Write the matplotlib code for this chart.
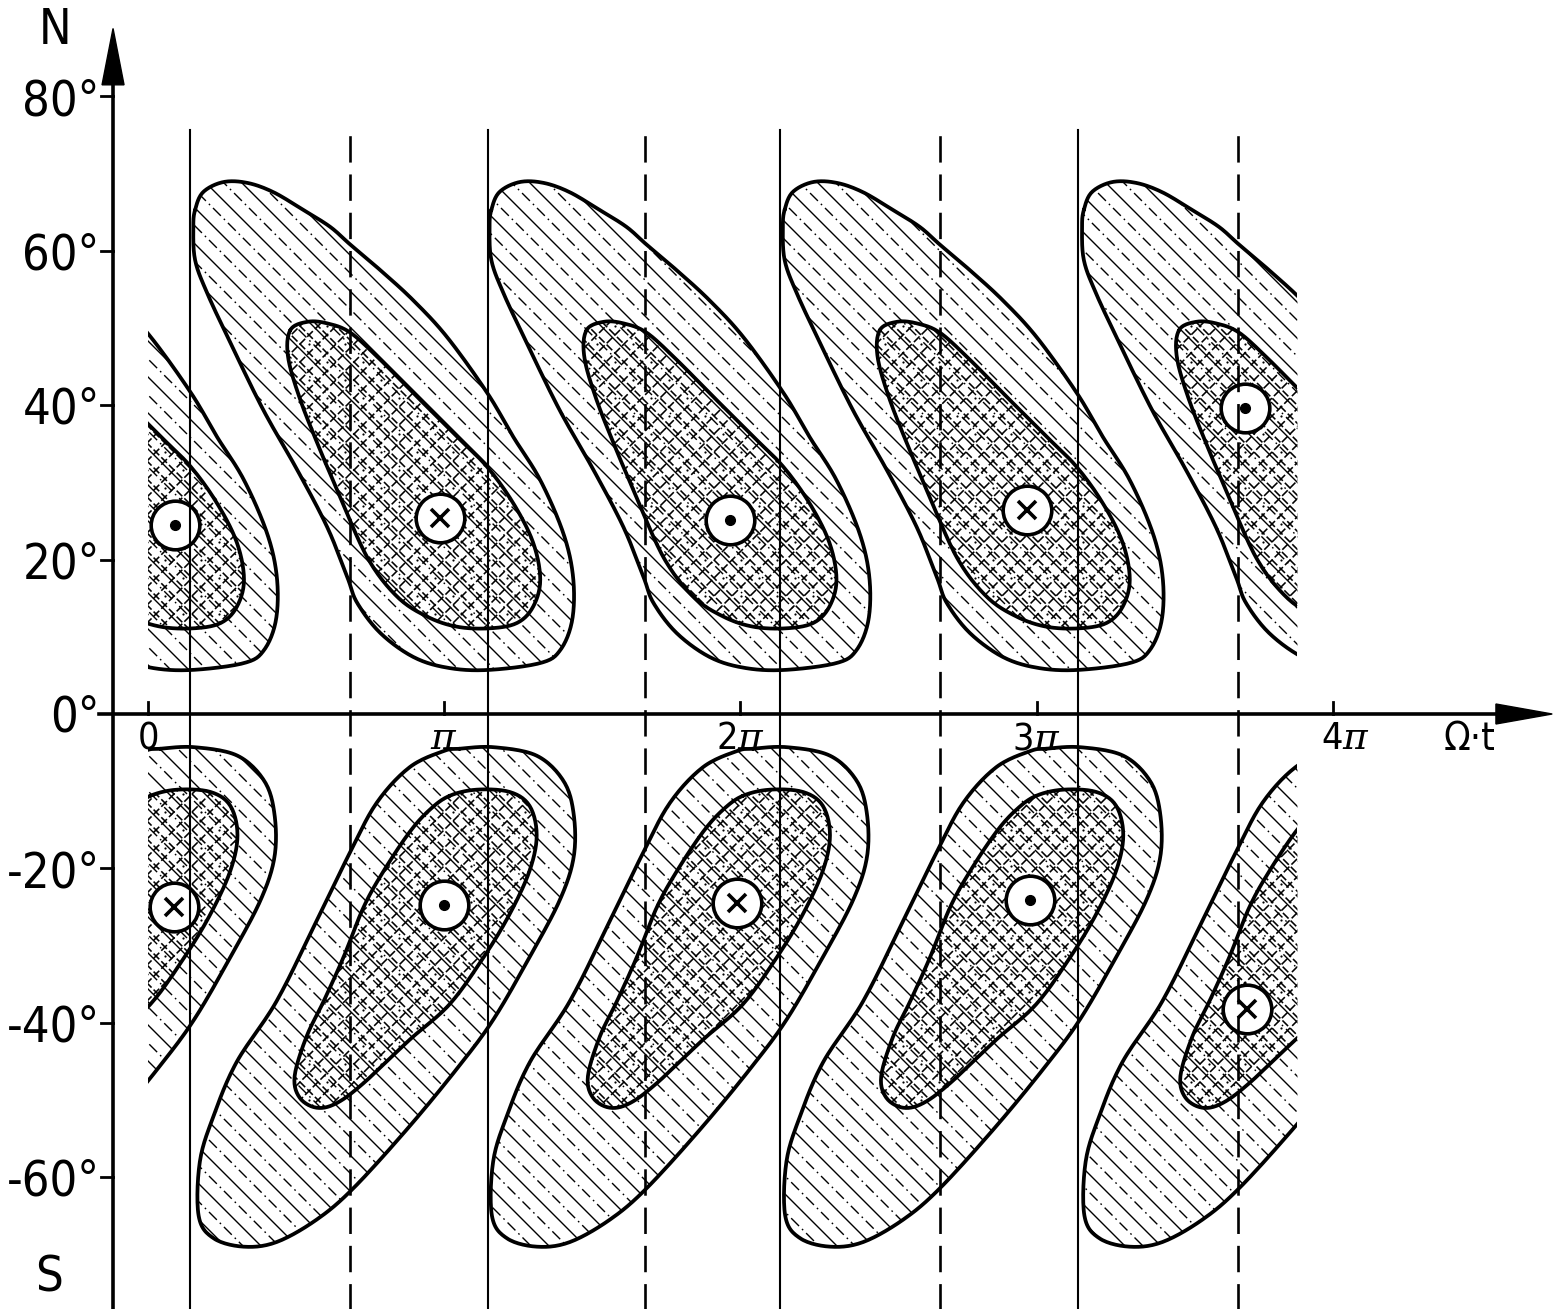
import numpy as np
import matplotlib.pyplot as plt
from matplotlib.patches import Polygon, Rectangle
from matplotlib.collections import LineCollection
from matplotlib import font_manager

# x: Omega*t in units of pi, y: latitude in degrees
SX, SY = 296.25, 7.72          # pixels per pi, pixels per degree
X0_PX, Y0_PX = 148, 714        # pixel position of (0, 0 deg)
W, H = 1554, 1309
XMIN, XMAX = -X0_PX / SX, (W - X0_PX) / SX
YMIN, YMAX = (Y0_PX - H) / SY, Y0_PX / SY

# northern lobe outlines, relative to the lobe phase (d(Omega t)/pi, latitude)
north_outer_dx = [-0.841, -0.814, -0.746, -0.665, -0.577, -0.476, -0.385, -0.317, -0.216, -0.105,
                  0.010, 0.145, 0.233, 0.324, 0.402, 0.435, 0.432, 0.392, 0.324, 0.145,
                  0.010, -0.105, -0.216, -0.294, -0.327, -0.395, -0.496, -0.611, -0.722, -0.800,
                  -0.841, -0.847]
north_outer_lat = [65.3, 67.6, 68.9, 68.8, 67.6, 65.3, 63.1, 60.8, 57.5, 53.6,
                   48.8, 41.6, 35.9, 30.3, 23.4, 17.7, 12.2, 8.3, 6.6, 5.7,
                   6.0, 7.4, 10.5, 14.4, 17.7, 24.2, 31.6, 39.4, 48.1, 54.5,
                   58.8, 63.1]
north_inner_dx = [-0.520, -0.462, -0.395, -0.317, -0.216, -0.105, 0.044, 0.145, 0.233, 0.300,
                  0.324, 0.300, 0.246, 0.155, 0.044, -0.057, -0.159, -0.260, -0.361, -0.419,
                  -0.486, -0.527]
north_inner_lat = [49.7, 50.8, 50.6, 49.4, 45.9, 41.6, 35.9, 32.0, 27.3, 22.2,
                   17.4, 13.9, 11.8, 11.1, 11.3, 12.6, 15.2, 20.3, 29.0, 34.2,
                   40.7, 46.2]

# southern lobe outlines
south_outer_dx = [0.042, 0.157, 0.302, 0.393, 0.427, 0.427, 0.380, 0.278, 0.157, 0.042,
                  -0.127, -0.316, -0.441, -0.576, -0.687, -0.789, -0.839, -0.835, -0.789, -0.711,
                  -0.576, -0.441, -0.329, -0.238, -0.127, -0.012]
south_outer_lat = [-4.5, -4.3, -5.4, -8.7, -13.0, -18.5, -24.1, -31.5, -39.5, -45.5,
                   -53.4, -61.4, -65.5, -68.4, -69.0, -67.9, -65.0, -58.0, -52.1, -45.1,
                   -37.2, -26.8, -18.0, -11.5, -6.9, -4.8]
south_inner_dx = [0.008, 0.100, 0.211, 0.278, 0.302, 0.278, 0.211, 0.123, 0.008, -0.127,
                  -0.282, -0.373, -0.441, -0.498, -0.515, -0.475, -0.417, -0.350, -0.282, -0.214,
                  -0.127, -0.059]
south_inner_lat = [-10.6, -9.8, -10.1, -11.9, -15.7, -20.3, -25.9, -31.5, -37.6, -42.2,
                   -47.8, -50.4, -51.0, -49.7, -46.9, -41.8, -37.2, -31.5, -25.0, -20.3,
                   -15.3, -12.4]

north_phase = [0.0, 1.0, 2.0, 2.99, 4.0]
south_phase = [0.0, 1.01, 2.0, 2.99, 4.0]
phase_min, phase_max = 0.0, 3.88

solid_lines = [0.142, 1.148, 2.133, 3.139]
dashed_lines = [0.682, 1.678, 2.673, 3.679]
lines_top = 75.6

north_mark_x = [0.091, 0.986, 1.965, 2.967, 3.703]
north_mark_lat = [24.5, 25.4, 25.1, 26.4, 39.6]
north_mark_kind = ['dot', 'cross', 'dot', 'cross', 'dot']
south_mark_x = [0.088, 1.0, 1.988, 2.977, 3.710]
south_mark_lat = [-25.0, -24.7, -24.5, -24.1, -38.2]
south_mark_kind = ['cross', 'dot', 'cross', 'dot', 'cross']

lat_ticks = [80, 60, 40, 20, -20, -40, -60]
lat_labels = ['80°', '60°', '40°', '20°', '-20°', '-40°', '-60°']
phase_ticks = [0, 1, 2, 3, 4]
phase_labels = ['0', r'$\pi$', r'2$\pi$', r'3$\pi$', r'4$\pi$']


def label_font():
    entries = font_manager.fontManager.ttflist
    if any(f.name == 'Liberation Sans Narrow' for f in entries):
        return dict(family='Liberation Sans Narrow')
    if any(f.name == 'DejaVu Sans' and f.stretch == 'condensed' for f in entries):
        return dict(family='DejaVu Sans', stretch='condensed')
    return dict(family='Liberation Sans')


FONT = label_font()
plt.rcParams['mathtext.fontset'] = 'custom'
plt.rcParams['mathtext.it'] = 'DejaVu Serif:italic'
plt.rcParams['mathtext.rm'] = 'DejaVu Serif:italic'


def smooth(xs, ys, n=14):
    # closed Catmull-Rom spline, computed in pixel space
    p = np.column_stack([np.asarray(xs) * SX, np.asarray(ys) * SY])
    m = len(p)
    t = np.linspace(0, 1, n, endpoint=False)[:, None]
    out = []
    for i in range(m):
        p0, p1, p2, p3 = p[i - 1], p[i], p[(i + 1) % m], p[(i + 2) % m]
        out.append(0.5 * (2 * p1 + (p2 - p0) * t + (2 * p0 - 5 * p1 + 4 * p2 - p3) * t ** 2
                          + (3 * p1 - p0 - 3 * p2 + p3) * t ** 3))
    out = np.vstack(out)
    return out[:, 0] / SX, out[:, 1] / SY


def clip_x(pts, lo, hi):
    def cut(poly, inside, xc):
        res = []
        for i in range(len(poly)):
            cur, prev = poly[i], poly[i - 1]
            if inside(cur):
                if not inside(prev):
                    s = (xc - prev[0]) / (cur[0] - prev[0])
                    res.append((xc, prev[1] + s * (cur[1] - prev[1])))
                res.append(cur)
            elif inside(prev):
                s = (xc - prev[0]) / (cur[0] - prev[0])
                res.append((xc, prev[1] + s * (cur[1] - prev[1])))
        return res
    poly = [tuple(v) for v in pts]
    poly = cut(poly, lambda v: v[0] >= lo, lo)
    if poly:
        poly = cut(poly, lambda v: v[0] <= hi, hi)
    return np.array(poly)


def hatch_lines(slope, step, offset=0.0):
    # straight lines y = slope*x + c over the whole figure, returned in data units
    if slope < 0:
        cs = np.arange(offset, W + H + step, step)
    else:
        cs = np.arange(-W + offset, H + step, step)
    segs = []
    for c in cs:
        x = np.array([0, W])
        y = slope * x + c
        segs.append(np.column_stack([x / SX + XMIN, y / SY + YMIN]))
    return segs


fig = plt.figure(figsize=(W / 100, H / 100), dpi=100)
ax = fig.add_axes([0, 0, 1, 1])
ax.set_xlim(XMIN, XMAX)
ax.set_ylim(YMIN, YMAX)
ax.axis('off')

band = Rectangle((phase_min, -90), phase_max - phase_min, 180, transform=ax.transData)

outer_segs = hatch_lines(-1, 18)
inner_a = hatch_lines(-1, 18, 5)
inner_b = hatch_lines(1, 18, 5)
outer_styles = ['solid' if i % 2 == 0 else (0, (8, 3, 1.2, 3)) for i in range(len(outer_segs))]

# stipple points between the cross hatching
c1, c2 = np.meshgrid(np.arange(14, W + H, 36), np.arange(-W + 14, H, 36))
stip_x, stip_y = (c1 - c2) / 2, (c1 + c2) / 2
inside = (stip_x > 0) & (stip_x < W) & (stip_y > 0) & (stip_y < H)
stip_x, stip_y = stip_x[inside] / SX + XMIN, stip_y[inside] / SY + YMIN


def draw_region(xs, ys, kind):
    sx, sy = smooth(xs, ys)
    filled = clip_x(np.column_stack([sx, sy]), phase_min, phase_max)
    if len(filled) < 3:
        return
    patch = Polygon(filled, closed=True, facecolor='white', edgecolor='none', zorder=2)
    ax.add_patch(patch)
    if kind == 'outer':
        lc = LineCollection(outer_segs, colors='black', linewidths=1.0,
                            linestyles=outer_styles, zorder=2.1)
        lc.set_clip_path(patch)
        ax.add_collection(lc)
    else:
        for segs in (inner_a, inner_b):
            lc = LineCollection(segs, colors='black', linewidths=1.15,
                                linestyles=[(0, (5, 1.8))], zorder=2.3)
            lc.set_clip_path(patch)
            ax.add_collection(lc)
        dots = ax.scatter(stip_x, stip_y, s=2.5, color='black', lw=0, zorder=2.3)
        dots.set_clip_path(patch)
    line, = ax.plot(np.append(sx, sx[0]), np.append(sy, sy[0]), color='black',
                    lw=2.7, zorder=3, solid_capstyle='round')
    line.set_clip_path(band)


for k0 in north_phase:
    draw_region(np.add(north_outer_dx, k0), north_outer_lat, 'outer')
    draw_region(np.add(north_inner_dx, k0), north_inner_lat, 'inner')
for k0 in south_phase:
    draw_region(np.add(south_outer_dx, k0), south_outer_lat, 'outer')
    draw_region(np.add(south_inner_dx, k0), south_inner_lat, 'inner')

# markers: circled dot / circled cross
for xs, ys, kinds in ((north_mark_x, north_mark_lat, north_mark_kind),
                      (south_mark_x, south_mark_lat, south_mark_kind)):
    for x, y, kind in zip(xs, ys, kinds):
        ax.plot(x, y, 'o', ms=35, mfc='white', mec='black', mew=2.6, zorder=5)
        if kind == 'dot':
            ax.plot(x, y, 'o', ms=7, color='black', zorder=6)
        else:
            ax.plot(x, y, 'x', ms=13, color='black', mew=2.6, zorder=6)

for x in solid_lines:
    ax.plot([x, x], [YMIN - 5, lines_top], color='black', lw=1.5, zorder=7)
for x in dashed_lines:
    ax.plot([x, x], [YMIN - 5, lines_top], color='black', lw=1.9,
            dashes=(10, 4.5), zorder=7)

# axes with arrow heads
y_axis_x = -0.118
ax.plot([y_axis_x, y_axis_x], [YMIN - 5, 83], color='black', lw=2.6, zorder=8)
ax.add_patch(Polygon([[y_axis_x - 11 / SX, 81.5], [y_axis_x + 11 / SX, 81.5],
                      [y_axis_x, 88.8]], closed=True, color='black', zorder=8))
ax.plot([-0.165, 4.58], [0, 0], color='black', lw=2.6, zorder=8)
ax.add_patch(Polygon([[4.55, 10 / SY], [4.55, -10 / SY], [4.74, 0]],
                     closed=True, color='black', zorder=8))

for lat, lab in zip(lat_ticks, lat_labels):
    ax.plot([y_axis_x - 12 / SX, y_axis_x], [lat, lat], color='black', lw=2, zorder=8)
    ax.text(y_axis_x - 0.045, lat - 0.6, lab, ha='right', va='center', fontsize=35, **FONT)
ax.text(y_axis_x - 0.045, -0.4, '0°', ha='right', va='center', fontsize=35, **FONT)
ax.text(-0.315, 88.6, 'N', ha='center', va='center', fontsize=35, **FONT)
ax.text(-0.335, -73.0, 'S', ha='center', va='center', fontsize=35, **FONT)

for k, lab in zip(phase_ticks, phase_labels):
    ax.plot([k, k], [0, 12 / SY], color='black', lw=2, zorder=8)
    ax.text(k + (0.04 if k == 4 else 0.0), -3.3, lab, ha='center', va='center',
            fontsize=27, **FONT)
ax.text(4.46, -3.3, 'Ω·t', ha='center', va='center', fontsize=28, **FONT)

fig.savefig('out.png', dpi=100)
